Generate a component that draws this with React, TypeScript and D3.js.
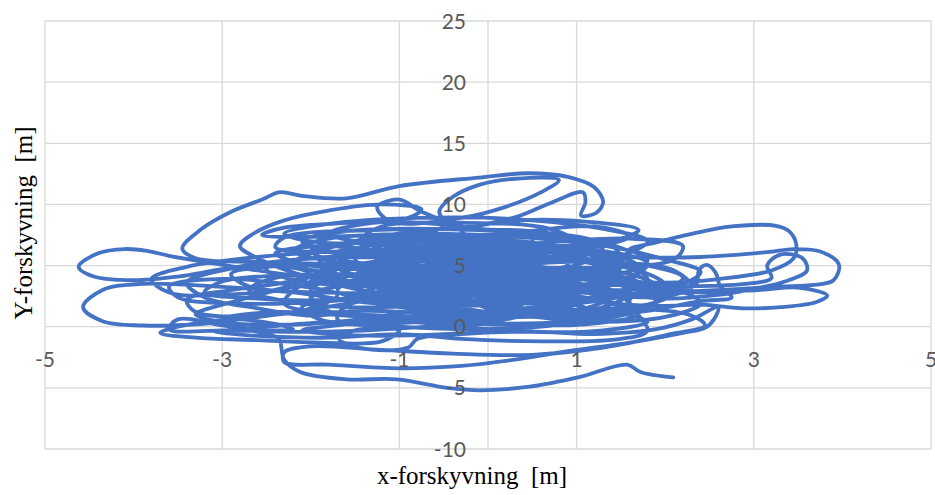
import React from 'react';
import * as d3 from 'd3';

// axis ticks (Excel-style: min -5, major unit 2)
const xTicks = [-5, -3, -1, 1, 3, 5];
const yTicks = [-10, -5, 0, 5, 10, 15, 20, 25];

// displacement track [x, y] in metres, in drawing order
const coreStart = [
  [0.2, 3.1], [0.9, 3.8], [1.2, 5.1], [0.6, 6.2], [-0.4, 6.0], [-0.9, 4.7], [-0.4, 3.3], [0.5, 2.4],
  [1.4, 2.6], [1.8, 3.9], [1.3, 5.6], [0.2, 6.6], [-1.0, 6.5], [-1.8, 5.3], [-1.6, 3.8], [-0.7, 2.7],
  [0.3, 1.6], [1.1, 1.1], [1.6, 1.9], [1.2, 3.2], [0.1, 4.0], [-1.1, 4.3], [-2.0, 4.1], [-2.6, 4.6],
  [-3.2, 5.3], [-3.6, 5.8],
];

const leftLoops = [
  [-3.85, 6.2], [-4.1, 6.35], [-4.4, 6.0], [-4.62, 4.9], [-4.45, 4.1], [-4.0, 3.8], [-3.5, 4.1],
  [-3.0, 4.7], [-2.3, 5.4], [-1.5, 5.7], [-0.6, 5.4], [0.2, 4.6], [0.8, 3.5], [0.4, 2.3], [-0.5, 1.7],
  [-1.4, 2.0], [-2.2, 2.8], [-3.1, 3.3], [-3.9, 3.5], [-4.35, 3.0], [-4.57, 1.6], [-4.35, 0.45],
  [-3.9, 0.1], [-3.3, 0.2], [-2.7, 0.7], [-2.0, 1.4], [-1.2, 2.4], [-0.4, 3.6], [0.4, 4.3], [1.2, 4.4],
  [1.7, 3.6], [1.4, 2.4], [0.5, 1.9], [-0.6, 2.3], [-1.5, 3.1], [-2.1, 4.2], [-2.6, 5.6], [-2.8, 6.6],
  [-2.65, 7.6], [-2.3, 8.7], [-1.8, 9.5], [-1.2, 10.0], [-0.75, 9.6], [-0.9, 8.9], [-1.6, 8.5],
  [-2.3, 8.1], [-2.55, 7.5], [-2.0, 7.35], [-1.0, 7.5], [0.0, 7.2], [0.8, 6.5], [1.1, 5.4], [0.5, 4.5],
  [-0.5, 4.3], [-1.5, 5.0], [-2.6, 5.3], [-3.3, 5.6],
];

const topArc = [
  [-3.45, 6.4], [-3.25, 7.9], [-2.9, 9.4], [-2.55, 10.4], [-2.35, 11.0], [-2.1, 10.7], [-1.6, 10.5],
  [-1.0, 11.5], [-0.1, 12.2], [0.45, 12.55], [0.9, 12.25], [1.2, 11.4], [1.3, 10.2], [1.22, 9.3],
  [1.05, 9.1], [1.1, 10.2], [1.07, 11.0], [0.7, 10.1], [0.33, 9.0], [-0.2, 8.2], [-0.8, 7.8],
  [-1.5, 7.0], [-2.2, 5.2], [-1.5, 4.1], [-0.5, 3.5], [0.6, 3.3], [1.4, 4.0], [1.5, 5.3], [0.9, 6.3],
  [0.0, 6.9], [-0.9, 6.9], [-1.6, 6.1], [-1.7, 4.9], [-1.2, 3.8], [-0.4, 2.9], [0.7, 2.6], [1.0, 4.0],
  [0.3, 5.2], [-0.8, 5.3], [-1.5, 4.2], [-1.1, 2.9], [-0.2, 1.4], [0.9, 0.8], [1.6, 1.6], [1.4, 3.0],
  [0.6, 3.3], [-0.2, 2.8], [-0.9, 2.1], [-1.7, 1.2], [-2.3, 1.9], [-2.1, 3.4], [-1.2, 4.4], [-0.1, 4.9],
  [0.9, 5.7], [1.2, 6.9], [0.5, 7.8], [-0.4, 8.3], [-0.55, 9.4], [-0.4, 10.6], [-0.1, 11.6],
  [0.3, 12.1], [0.8, 12.0], [0.6, 11.0], [0.2, 9.8], [-0.3, 8.9], [-1.1, 8.6], [-1.25, 9.8],
  [-1.0, 10.4], [-0.8, 9.6], [-0.5, 8.3], [-1.1, 6.5], [-0.7, 5.3], [0.2, 4.2], [1.0, 3.1], [1.8, 2.4],
  [2.3, 3.2], [2.1, 4.6], [1.3, 5.3], [0.3, 5.5], [-0.8, 5.9], [-1.9, 6.6], [-2.4, 6.0], [-2.0, 5.0],
  [-1.1, 4.6], [-0.1, 4.1], [0.6, 3.2], [0.4, 1.9], [-0.3, 0.8], [-1.0, 0.3], [-1.7, 0.6], [-1.6, 1.7],
  [-0.8, 2.5], [0.2, 3.0], [1.1, 3.2],
];

const rightLoops = [
  [1.7, 4.5], [1.8, 5.6], [1.6, 6.3], [1.9, 6.9], [2.3, 7.6], [2.75, 8.2], [3.25, 8.25], [3.4, 7.8],
  [3.48, 6.7], [3.45, 5.6], [3.2, 4.6], [2.6, 3.9], [2.0, 3.6], [1.3, 3.8], [0.7, 4.6], [0.2, 5.5],
  [0.7, 6.1], [1.6, 5.7], [2.4, 5.7], [3.15, 6.1], [3.45, 6.35], [3.75, 6.15], [3.96, 5.1],
  [3.9, 3.8], [3.65, 3.4], [3.3, 3.3], [2.85, 3.1], [2.3, 2.9], [1.7, 2.7], [1.0, 2.8], [0.4, 3.5],
  [0.0, 4.4], [0.6, 4.1], [1.5, 2.6], [2.3, 2.8], [3.05, 3.0], [3.5, 3.2], [3.83, 2.55], [3.7, 2.0],
  [3.3, 1.6], [2.9, 1.5], [2.4, 1.8], [1.9, 1.7], [1.3, 2.0], [0.7, 2.9], [1.2, 3.4], [2.0, 3.3],
  [2.9, 3.5], [3.2, 4.0], [3.15, 5.0], [3.3, 5.9], [3.55, 5.6], [3.6, 4.6], [3.35, 3.7], [3.0, 3.1],
  [2.6, 2.6], [2.0, 2.3], [1.6, 2.6], [2.0, 2.9], [2.35, 3.5], [2.38, 4.6], [2.47, 5.05], [2.57, 4.4],
  [2.62, 3.3], [2.75, 2.4], [2.4, 2.1], [1.8, 1.3], [1.0, 0.7],
];

const coreLoops = [
  [0.2, 1.0], [-0.8, 1.6], [-1.3, 3.0], [-0.8, 4.2], [0.2, 4.6], [1.2, 4.1], [1.6, 2.8], [1.3, 1.6],
  [0.2, 1.2], [-0.8, 1.8], [-1.3, 3.0], [-0.9, 4.1], [0.2, 4.0], [0.9, 3.7], [1.4, 2.6], [1.1, 1.5],
  [0.2, 1.2], [-0.2, 2.3], [-0.1, 3.6], [-0.4, 3.9], [-1.3, 3.6], [-2.0, 2.6], [-1.9, 1.5],
  [-1.1, 0.9], [-0.1, 1.0], [0.6, 1.9], [0.5, 3.1], [-0.4, 3.9], [-1.5, 4.3], [-2.4, 4.0], [-2.7, 3.0],
  [-2.2, 2.0], [-1.2, 1.6], [-0.3, 2.2], [0.1, 3.5], [-0.2, 4.8], [-1.0, 5.6], [-2.0, 5.6], [-2.5, 4.7],
  [-2.1, 3.7], [-1.1, 3.3], [0.0, 3.6], [0.9, 4.6], [1.1, 5.9], [0.4, 6.9], [-0.6, 7.1], [-1.3, 6.3],
  [-1.2, 5.1], [-0.3, 4.4], [0.8, 4.5], [1.5, 5.4], [1.4, 6.6], [0.6, 7.5], [-0.6, 8.0], [-1.6, 7.8],
  [-2.1, 7.0], [-1.8, 6.1], [-0.9, 5.7], [0.3, 6.0], [1.0, 6.9], [0.7, 8.0], [-0.3, 8.5], [-1.2, 8.2],
  [-1.4, 7.3], [-0.7, 6.6], [0.4, 6.5], [1.4, 7.0], [1.7, 7.9], [1.1, 8.6], [0.2, 8.6], [-0.3, 7.8],
  [0.2, 6.9], [1.2, 6.3], [1.8, 5.2], [1.6, 3.9], [0.9, 3.0], [-0.1, 2.7], [-0.9, 3.3], [-1.1, 4.6],
  [-0.6, 5.7], [0.4, 5.9], [1.2, 5.1], [1.3, 3.8], [0.6, 2.8], [-0.5, 2.5], [-1.5, 3.1], [-1.8, 4.3],
  [-1.3, 5.3], [-0.2, 5.4], [0.6, 4.6], [0.5, 3.4], [-0.3, 2.6], [-1.4, 2.3], [-2.1, 1.6], [-1.9, 0.6],
  [-1.0, 0.0], [0.0, -0.2], [0.8, 0.2], [1.2, 1.1], [0.8, 2.1], [-0.1, 2.2], [-0.7, 1.4], [-0.3, 0.5],
  [0.6, 0.3], [1.5, 0.9], [1.9, 2.0], [1.6, 3.3], [0.8, 4.0], [-0.2, 4.2], [-1.1, 3.7], [-1.4, 2.7],
  [-0.9, 1.9], [0.1, 1.8], [0.9, 2.5], [1.0, 3.6], [0.3, 4.7], [-0.8, 5.0], [-1.8, 4.6], [-2.3, 3.6],
  [-2.9, 3.0], [-3.4, 2.2], [-3.3, 1.2], [-2.6, 0.9], [-2.0, 1.5], [-1.7, 2.6], [-2.2, 3.4],
  [-3.0, 3.9], [-3.6, 3.3], [-3.5, 2.4], [-2.8, 1.9], [-1.8, 2.1], [-0.9, 2.9], [-0.2, 3.3], [0.5, 3.9],
  [1.3, 4.8], [1.6, 6.0], [1.1, 7.1], [0.2, 7.5], [-0.9, 7.3], [-1.6, 6.6], [-1.7, 5.7], [-1.1, 5.0],
  [-0.1, 5.1], [0.8, 5.6], [1.3, 6.5], [0.9, 7.4], [-0.1, 7.9], [-1.3, 7.9], [-2.3, 7.3],
  [-2.4, 6.5], [-1.7, 6.1], [-0.6, 6.2], [0.5, 6.8], [1.6, 7.2], [2.2, 6.6], [2.1, 5.5], [1.4, 4.9],
  [0.4, 4.8], [-0.6, 4.6], [-1.5, 3.9], [-1.7, 2.9], [-1.1, 2.2], [0.0, 2.0], [1.0, 2.2], [1.9, 2.9],
  [2.2, 4.0], [1.8, 5.0], [0.9, 5.3], [-0.2, 5.0], [-0.8, 4.2], [-0.6, 3.2], [0.3, 2.8], [1.2, 3.3],
  [1.5, 4.4], [1.0, 5.4], [-0.1, 6.0], [-1.2, 6.0], [-1.9, 5.3], [-1.8, 4.2], [-1.0, 3.5], [0.1, 3.4],
  [1.1, 3.9], [1.7, 4.9], [1.4, 5.9], [0.4, 6.3], [-0.8, 6.2], [-1.5, 5.5], [-1.2, 4.5], [-0.3, 3.9],
  [0.6, 3.6], [1.2, 2.8], [0.9, 1.6], [-0.1, 1.2], [-1.0, 1.6], [-1.4, 2.5], [-0.9, 3.1], [0.1, 2.8],
  [0.7, 1.7], [0.2, 0.6], [-0.7, 0.4], [-1.6, 0.9], [-2.4, 1.2], [-3.0, 0.6], [-2.7, -0.2],
  [-1.8, -0.4], [-0.9, -0.1], [-0.1, 0.4], [0.7, 1.1], [1.4, 1.2], [1.8, 0.4], [1.3, -0.3],
  [0.4, -0.4], [-0.4, 0.1], [-1.2, 0.8],
];

const coreExtra = [
  [-0.5, 1.5], [0.4, 2.2], [1.3, 2.0], [1.7, 1.0], [1.1, 0.2], [0.0, 0.2], [-1.1, 0.6], [-1.9, 1.6],
  [-2.0, 3.0], [-1.5, 4.3], [-0.5, 5.0], [0.6, 5.2], [1.5, 5.8], [1.8, 7.0], [1.3, 8.0], [0.3, 8.8],
  [-0.8, 8.9], [-1.8, 8.4], [-2.3, 7.6], [-1.9, 6.9], [-0.9, 7.0], [0.2, 7.6], [1.2, 8.2], [1.6, 7.4],
  [1.1, 6.4], [0.0, 6.2], [-1.1, 6.6], [-1.8, 7.6], [-1.3, 8.5], [-0.2, 8.1], [0.5, 7.1], [0.3, 5.9],
  [-0.6, 5.0], [-1.6, 5.2], [-2.2, 6.2], [-1.8, 7.2], [-0.8, 7.6], [0.4, 7.3], [1.4, 6.5], [2.0, 5.5],
  [2.4, 4.5], [2.2, 3.5], [1.5, 3.0], [0.5, 3.2], [-0.5, 3.8], [-1.5, 4.8], [-2.3, 5.0], [-2.9, 4.3],
  [-2.7, 3.3], [-1.9, 2.8], [-0.8, 2.9], [0.3, 3.8], [0.9, 5.0], [0.7, 6.3], [-0.3, 7.0], [-1.4, 7.0],
  [-2.0, 6.2], [-1.6, 5.1], [-0.6, 4.5], [0.6, 4.3], [1.6, 3.8], [2.1, 2.8], [1.8, 1.8], [0.9, 1.4],
  [-0.2, 1.8], [-1.0, 2.6], [-1.1, 3.8], [-0.4, 4.6], [0.7, 4.8], [1.6, 4.3], [1.9, 3.3], [1.4, 2.3],
  [0.4, 1.5], [-0.6, 0.9], [-1.6, 0.2], [-2.1, -0.3], [-1.5, -0.7], [-0.5, -0.6], [0.5, 0.0],
  [1.3, 0.6], [1.5, 1.6], [1.0, 2.5], [0.0, 2.9], [-1.0, 2.8], [-1.8, 2.2], [-2.6, 2.3], [-3.2, 2.8],
  [-3.0, 3.7], [-2.2, 4.2], [-1.2, 4.0], [-0.2, 3.2], [0.6, 2.6], [1.5, 2.4], [2.0, 3.4], [1.7, 4.6],
  [0.8, 5.5], [-0.3, 6.0], [-1.2, 5.6], [-1.4, 4.6], [-0.7, 3.9], [0.4, 3.8], [1.2, 4.3], [1.3, 5.2],
  [0.5, 5.7], [-0.6, 5.6], [-1.3, 4.9], [-0.9, 4.1], [0.0, 3.9], [0.9, 3.4], [1.0, 2.3], [0.3, 1.3],
  [-0.6, 1.1], [-1.4, 1.3], [-2.0, 0.9],
];

const leftExtra = [
  [-2.6, 1.5], [-3.2, 2.4], [-3.4, 3.6], [-3.0, 4.6], [-2.4, 5.0], [-2.0, 4.3], [-2.3, 3.2],
  [-3.0, 2.6], [-3.6, 2.8], [-3.8, 3.9], [-3.4, 4.9], [-2.6, 5.7], [-1.6, 6.2], [-0.5, 6.4],
  [0.5, 6.0], [0.9, 5.1], [0.2, 4.3], [-0.9, 3.9], [-2.0, 3.5], [-2.9, 2.0], [-3.3, 1.0], [-2.9, 0.3],
  [-2.1, 0.2], [-1.4, 0.6], [-0.6, 0.9], [0.3, 0.9], [1.2, 0.4], [2.0, 0.8], [2.4, 1.9], [2.2, 2.8],
  [1.6, 2.2], [1.8, -0.3], [1.5, -1.0], [0.6, -1.2], [-0.3, -1.0], [-1.0, -0.6], [-1.8, -0.9],
  [-2.7, -0.7], [-3.1, -0.4], [-2.2, -0.2],
];

const lowerPart = [
  [-2.8, 0.6], [-3.5, 0.0], [-3.7, -0.5], [-3.3, -0.9], [-2.6, -1.1], [-1.9, -1.3],
  [-1.2, -1.2], [-1.0, -0.3], [-1.5, -0.3], [-1.68, -1.0], [-1.4, -1.8], [-0.9, -1.7], [-0.8, -1.0],
  [-0.3, -0.6], [0.5, -0.4], [1.2, -0.6], [1.9, -0.2], [2.3, 0.6], [2.6, 1.6], [2.55, 0.6],
  [2.45, -0.1], [2.2, -0.5], [1.6, -1.3], [0.9, -2.0], [0.3, -2.7], [-0.3, -3.2], [-1.0, -3.4],
  [-1.8, -3.1], [-2.3, -2.9], [-2.3, -2.1], [-2.0, -1.6], [-1.2, -1.9], [-0.4, -2.2], [0.5, -2.3],
  [1.3, -1.7], [2.0, -0.7], [2.45, 0.1], [2.3, 0.9], [1.8, 1.4], [1.0, 1.0], [0.0, 0.7], [-1.0, 0.5],
  [-2.0, 0.3], [-3.0, -0.3], [-3.6, -0.2], [-3.5, 0.6], [-3.0, 0.1], [-2.4, -0.8], [-2.35, -1.1],
  [-2.3, -2.7], [-2.12, -3.7], [-1.6, -4.3], [-1.03, -4.3], [-0.46, -5.0], [-0.09, -5.2],
  [0.47, -4.9], [1.04, -4.1], [1.57, -3.1], [1.72, -3.7], [2.09, -4.15],
];

const track = [
  ...coreStart, ...leftLoops, ...topArc, ...rightLoops, ...coreLoops, ...coreExtra, ...leftExtra,
  ...lowerPart,
];

const W = 935;
const H = 495;

export default function App() {
  const x = d3.scaleLinear().domain([-5, 5]).range([45, 931]);
  const y = d3.scaleLinear().domain([-10, 25]).range([449, 21]);

  const line = d3
    .line<number[]>()
    .x(d => x(d[0]))
    .y(d => y(d[1]))
    .curve(d3.curveCatmullRom.alpha(0.5));

  const grid = '#d9d9d9';
  const tickFont = { fontFamily: 'Lato, "Open Sans", sans-serif', fontSize: 21, fill: '#595959' };
  const titleFont = {
    fontFamily: '"Liberation Serif", "Times New Roman", serif',
    fontSize: 25,
    fill: '#000',
    style: { whiteSpace: 'pre' as const },
  };

  return (
    <svg width={W} height={H} style={{ position: 'absolute', left: 0, top: 0, background: '#fff' }}>
      {/* gridlines */}
      {yTicks.map(t => (
        <line key={'gy' + t} x1={x(-5)} x2={x(5)} y1={y(t)} y2={y(t)} stroke={grid} strokeWidth={1.3} />
      ))}
      {xTicks.map(t => (
        <line key={'gx' + t} x1={x(t)} x2={x(t)} y1={y(-10)} y2={y(25)} stroke={grid} strokeWidth={1.3} />
      ))}
      {/* vertical axis at x = 0 */}
      <line x1={x(0)} x2={x(0)} y1={y(-10)} y2={y(25)} stroke={grid} strokeWidth={1.3} />

      <path d={line(track) || ''} fill="none" stroke="#4472c4" strokeWidth={3.8}
        strokeLinejoin="round" strokeLinecap="round" />

      {/* tick labels sit on top of the series */}
      {yTicks.map(t => (
        <text key={'ly' + t} x={x(0) - 22} y={y(t)} dy="0.36em" textAnchor="end" {...tickFont}>{t}</text>
      ))}
      {xTicks.map(t => (
        <text key={'lx' + t} x={x(t)} y={y(0) + 33} dy="0.36em" textAnchor="middle" {...tickFont}>{t}</text>
      ))}

      <text x={472} y={484} textAnchor="middle" {...titleFont}>{'x-forskyvning  [m]'}</text>
      <text transform={`translate(32, 223) rotate(-90)`} textAnchor="middle" {...titleFont}>{'Y-forskyvning  [m]'}</text>
    </svg>
  );
}
